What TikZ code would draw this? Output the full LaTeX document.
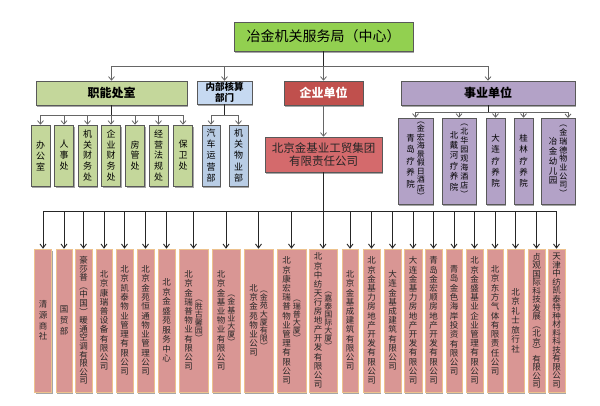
\documentclass[tikz,border=0pt]{standalone}
\usepackage{fontspec}
\setmainfont{Noto Sans CJK SC}
\usetikzlibrary{arrows.meta,shadows}
\definecolor{tgreen}{HTML}{92D050}
\definecolor{olv}{HTML}{C4D79B}
\definecolor{lblue}{HTML}{C6D9F1}
\definecolor{lblue2}{HTML}{B9CDE5}
\definecolor{qred}{HTML}{C0504D}
\definecolor{jred}{HTML}{D46A6C}
\definecolor{lav}{HTML}{B3A2C7}
\definecolor{pinkf}{HTML}{D99694}
\definecolor{pinkb}{HTML}{EDC28E}
\definecolor{bord}{HTML}{595959}
\makeatletter
\newcommand\vt[3]{\vbox{\fontsize{#1}{#2}\selectfont\baselineskip=#2pt\lineskiplimit=-\maxdimen\lineskip=0pt%
  \@tfor\vt@c:=#3\do{\hbox to #1pt{\hss\vt@c\hss}}}}
\makeatother
\newcommand\twocol[2]{\hbox{$\vcenter{#1}\kern2pt\vcenter{#2}$}}
\tikzset{
  box/.style={draw=bord, line width=0.6pt, inner sep=0pt,
    drop shadow={shadow xshift=1.3pt, shadow yshift=-1.5pt, opacity=.35, fill=black}},
  conn/.style={draw=black!85, line width=1pt},
  arr/.style={conn, -{Straight Barb[length=4pt,width=6pt,line width=0.9pt]}},
  gconn/.style={draw=black!60, line width=0.8pt},
  garr/.style={gconn, -{Straight Barb[length=3.5pt,width=6pt,line width=0.8pt]}},
  znc/.style={box, fill=olv, minimum width=19pt, minimum height=61pt},
  nbc/.style={box, fill=lblue2, minimum width=19pt, minimum height=61pt},
  syc/.style={box, fill=lav, minimum height=86pt},
  bot/.style={box, draw=pinkb, fill=pinkf, minimum height=143pt, text=black!85},
  hdr/.style={box, minimum height=24pt, font=\bfseries\fontsize{12}{14}\selectfont},
}
\begin{document}
\begin{tikzpicture}[x=1pt,y=-1pt]
\fill[white] (0,0) rectangle (600,405);
\useasboundingbox (0,0) rectangle (600,405);
% top
\node[box, fill=tgreen, minimum width=179pt, minimum height=29pt, font=\fontsize{14}{16}\selectfont] (top) at (323.5,36.5) {冶金机关服务局（中心）};
% level 2
\node[hdr, fill=olv, minimum width=151pt] (zn) at (111.5,93) {职能处室};
\node[box, fill=lblue, minimum width=55pt, minimum height=23pt, align=center, font=\bfseries\fontsize{9.5}{11.5}\selectfont] (nb) at (224.5,92.5) {内部核算\\部门};
\node[hdr, fill=qred, text=white, minimum width=79pt] (qy) at (323.5,93) {企业单位};
\node[hdr, fill=lav, minimum width=174pt] (sy) at (488,93) {事业单位};
% level 3 left
\node[znc] (c1) at (40.5,155.5) {\vt{9}{11}{办公室}};
\node[znc] (c2) at (64,155.5) {\vt{9}{11}{人事处}};
\node[znc] (c3) at (87.5,155.5) {\vt{9}{10.8}{机关财务处}};
\node[znc] (c4) at (111,155.5) {\vt{9}{10.8}{企业财务处}};
\node[znc] (c5) at (135,155.5) {\vt{9}{10.5}{房管处}};
\node[znc] (c6) at (158.5,155.5) {\vt{9}{10.8}{经营法规处}};
\node[znc] (c7) at (183,155.5) {\vt{9}{11}{保卫处}};
\node[nbc, minimum width=18pt] (n1) at (211,155.5) {\vt{9}{11.2}{汽车运营部}};
\node[nbc] (n2) at (238.5,155.5) {\vt{9}{11.2}{机关物业部}};
% enterprise group
\node[box, fill=jred, text=black!85, minimum width=117pt, minimum height=35pt, align=center, font=\fontsize{11.5}{13}\selectfont] (jj) at (323.5,154.5) {北京金基业工贸集团\\有限责任公司};
% public institutions
\node[syc, minimum width=35pt] (s1) at (415.5,161) {\twocol{\vt{8.5}{11.5}{青岛疗养院}}{\vt{8}{8.5}{︵金宏海景假日酒店︶}}};
\node[syc, minimum width=34pt] (s2) at (459,161) {\twocol{\vt{8.5}{10.4}{北戴河疗养院}}{\vt{8}{9}{︵北华园观海酒店︶}}};
\node[syc, minimum width=19pt] (s3) at (495.5,161) {\vt{8.5}{11.3}{大连疗养院}};
\node[syc, minimum width=19pt] (s4) at (523.5,161) {\vt{8.5}{11.3}{桂林疗养院}};
\node[syc, minimum width=34pt] (s5) at (558,161) {\twocol{\vt{8.5}{9.8}{冶金幼儿园}}{\vt{8}{8.7}{︵金瑞德物业公司︶}}};
\coordinate (s5a) at (568,118);
% bottom row
\node[bot, minimum width=17pt] (d1) at (43,320.5) {\vt{8.5}{10.7}{清源商社}};
\node[bot, minimum width=16pt] (d2) at (64,320.5) {\vt{8.5}{11}{国贸部}};
\node[bot, minimum width=17pt] (d3) at (83.5,320.5) {\vt{8.5}{8.6}{豪莎普︵中国︶暖通空调有限公司}};
\node[bot, minimum width=16pt] (d4) at (104,320.5) {\vt{8.5}{9.2}{北京康瑞普设备有限公司}};
\node[bot, minimum width=17pt] (d5) at (124.5,320.5) {\vt{8.5}{9.3}{北京凯泰物业管理有限公司}};
\node[bot, minimum width=17pt] (d6) at (145.5,320.5) {\vt{8.5}{9.3}{北京金苑恒通物业管理公司}};
\node[bot, minimum width=17pt] (d7) at (166.5,320.5) {\vt{8.5}{9.5}{北京金盛苑服务中心}};
\node[bot, minimum width=29pt] (d8) at (193.5,320.5) {\twocol{\vt{8.5}{9.2}{北京金瑞普物业有限公司}}{\vt{8}{8}{︵胜古馨园︶}}};
\node[bot, minimum width=28pt] (d9) at (226,320.5) {\twocol{\vt{8.5}{9.2}{北京金基业物业有限公司}}{\vt{8}{8.2}{︵金基业大厦︶}}};
\node[bot, minimum width=29pt] (d10) at (258.5,320.5) {\twocol{\vt{8.5}{9.2}{北京金苑物业公司}}{\vt{8}{8.2}{︵金苑大厦有限︶}}};
\node[bot, minimum width=29pt] (d11) at (291.5,320.5) {\twocol{\vt{8.5}{9.2}{北京康宏瑞普物业管理有限公司}}{\vt{8}{8}{︵瑞普大厦︶}}};
\node[bot, minimum width=28pt] (d12) at (323,320.5) {\twocol{\vt{8.5}{9.1}{北京中纺天行房地产开发有限公司}}{\vt{8}{8}{︵嘉泰国际大厦︶}}};
\node[bot, minimum width=16pt] (d13) at (350,320.5) {\vt{8.5}{9.2}{北京金基成建筑有限公司}};
\node[bot, minimum width=17pt] (d14) at (371.5,320.5) {\vt{8.5}{9.2}{北京金基力房地产开发有限公司}};
\node[bot, minimum width=17pt] (d15) at (392.5,320.5) {\vt{8.5}{9.2}{大连金基成建筑有限公司}};
\node[bot, minimum width=18pt] (d16) at (413,320.5) {\vt{8.5}{9.2}{大连金基力房地产开发有限公司}};
\node[bot, minimum width=17pt] (d17) at (433.5,320.5) {\vt{8.5}{9.2}{青岛金宏顺房地产开发有限公司}};
\node[bot, minimum width=16pt] (d18) at (454,320.5) {\vt{8.5}{9.3}{青岛金色海岸投资有限公司}};
\node[bot, minimum width=17pt] (d19) at (474.5,320.5) {\vt{8.5}{9.2}{北京金盛基业企业管理有限公司}};
\node[bot, minimum width=16pt] (d20) at (495,320.5) {\vt{8.5}{9.3}{北京东方气体有限责任公司}};
\node[bot, minimum width=17pt] (d21) at (515.5,320.5) {\vt{8.5}{9.5}{北京礼士旅行社}};
\node[bot, minimum width=17pt] (d22) at (536.5,320.5) {\vt{8.5}{8.5}{贞观国际科技发展︵北京︶有限公司}};
\node[bot, minimum width=17pt] (d23) at (556.5,320.5) {\vt{8.5}{8.5}{天津中纺凯泰特种材料科技有限公司}};
% buses
\coordinate (b1) at (0,66);
\coordinate (b2) at (0,115);
\coordinate (b3) at (0,112);
\coordinate (b4) at (0,211);
% top connectors
\draw[conn] (top.south) -- (top.south |- b1);
\draw[gconn] (zn.north |- b1) -- (sy.north |- b1);
\foreach \n in {zn,nb,qy,sy} \draw[garr] (\n.north |- b1) -- (\n.north);
% zn children
\draw[conn] (zn.south) -- (zn.south |- b2);
\draw[gconn] (c1.north |- b2) -- (c7.north |- b2);
\foreach \n in {c1,c2,c3,c4,c5,c6,c7} \draw[garr] (\n.north |- b2) -- (\n.north);
% nb children
\draw[conn] (nb.south) -- (nb.south |- b2);
\draw[gconn] (n1.north |- b2) -- (n2.north |- b2);
\foreach \n in {n1,n2} \draw[garr] (\n.north |- b2) -- (\n.north);
% qy -> jj
\draw[garr] (qy.south) -- (jj.north);
% sy children
\draw[conn] (sy.south) -- (sy.south |- b3);
\draw[gconn] (s1.north |- b3) -- (s5a |- b3);
\foreach \n in {s1,s2,s3,s4} \draw[garr] (\n.north |- b3) -- (\n.north);
\draw[garr] (s5a |- b3) -- (s5a);
% bottom
\draw[conn] (jj.south) -- (jj.south |- b4);
\draw[conn] (d1.north |- b4) -- (d23.north |- b4);
\foreach \n in {d1,d2,d3,d4,d5,d6,d7,d8,d9,d10,d11,d12,d13,d14,d15,d16,d17,d18,d19,d20,d21,d22,d23}
  \draw[arr] (\n.north |- b4) -- (\n.north);
\end{tikzpicture}
\end{document}
